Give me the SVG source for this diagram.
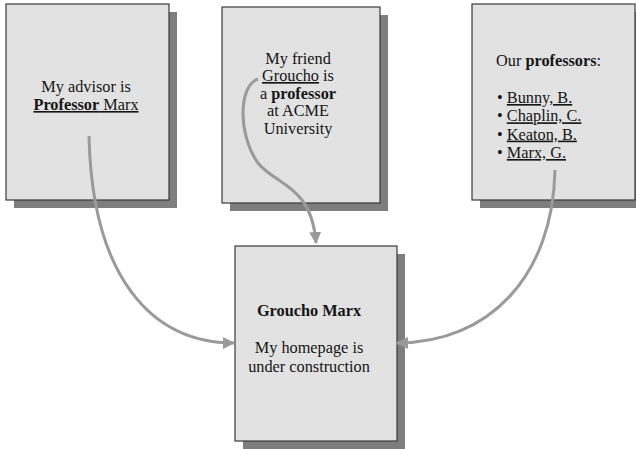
<svg xmlns="http://www.w3.org/2000/svg" width="636" height="449" viewBox="0 0 636 449">
  <style>
    .shadow { fill: #7e7e7e; }
    .page { fill: #e2e2e2; stroke: #3a3a3a; stroke-width: 1.2; }
    text { font-family: "Liberation Serif", "Times New Roman", serif; font-size: 16.3px; fill: #151515; }
    .c { text-anchor: middle; }
    .b { font-weight: bold; }
    .u { text-decoration: underline; }
    .link { fill: none; stroke: #9a9a9a; stroke-width: 3; }
  </style>
  <defs>
    <marker id="arrow" viewBox="0 0 12 12" refX="11" refY="6" markerWidth="12" markerHeight="12" markerUnits="userSpaceOnUse" orient="auto">
      <path d="M0 0 L12 6 L0 12 z" fill="#9a9a9a"/>
    </marker>
  </defs>

  <rect width="636" height="449" fill="#ffffff"/>

  <!-- advisor page -->
  <g id="advisor">
    <rect class="shadow" x="14" y="12" width="163" height="196"/>
    <rect class="page" x="6" y="4" width="163" height="196"/>
    <text class="c" x="86" y="92">My advisor is</text>
    <text class="c u" x="86" y="110"><tspan class="b">Professor</tspan> Marx</text>
  </g>

  <!-- friend page -->
  <g id="friend">
    <rect class="shadow" x="230" y="15" width="158" height="196"/>
    <rect class="page" x="222" y="7" width="158" height="196"/>
    <text class="c" x="298" y="63.5">My friend</text>
    <text class="c" x="298" y="81"><tspan class="u">Groucho</tspan> is</text>
    <text class="c" x="298" y="98.5">a <tspan class="b">professor</tspan></text>
    <text class="c" x="298" y="116">at ACME</text>
    <text class="c" x="298" y="133.5">University</text>
  </g>

  <!-- professors list page -->
  <g id="professors">
    <rect class="shadow" x="480" y="12" width="163" height="196"/>
    <rect class="page" x="472" y="4" width="163" height="196"/>
    <text x="496" y="66">Our <tspan class="b">professors</tspan>:</text>
    <text x="497" y="103">• <tspan class="u">Bunny, B.</tspan></text>
    <text x="497" y="121.3">• <tspan class="u">Chaplin, C.</tspan></text>
    <text x="497" y="139.6">• <tspan class="u">Keaton, B.</tspan></text>
    <text x="497" y="158">• <tspan class="u">Marx, G.</tspan></text>
  </g>

  <!-- homepage -->
  <g id="homepage">
    <rect class="shadow" x="243" y="254" width="162" height="195"/>
    <rect class="page" x="235" y="246" width="162" height="195"/>
    <text class="c b" x="309" y="316">Groucho Marx</text>
    <text class="c" x="309" y="353">My homepage is</text>
    <text class="c" x="309" y="372">under construction</text>
  </g>

  <!-- links -->
  <g id="links">
    <path class="link" marker-end="url(#arrow)" d="M89 136 C92 275, 150 343, 234 343"/>
    <path class="link" marker-end="url(#arrow)" d="M258 79 C238 86, 238 135, 258 163 C275 185, 312 185, 316 243"/>
    <path class="link" marker-end="url(#arrow)" d="M555 170 C553 275, 490 343, 397 343"/>
  </g>
</svg>
